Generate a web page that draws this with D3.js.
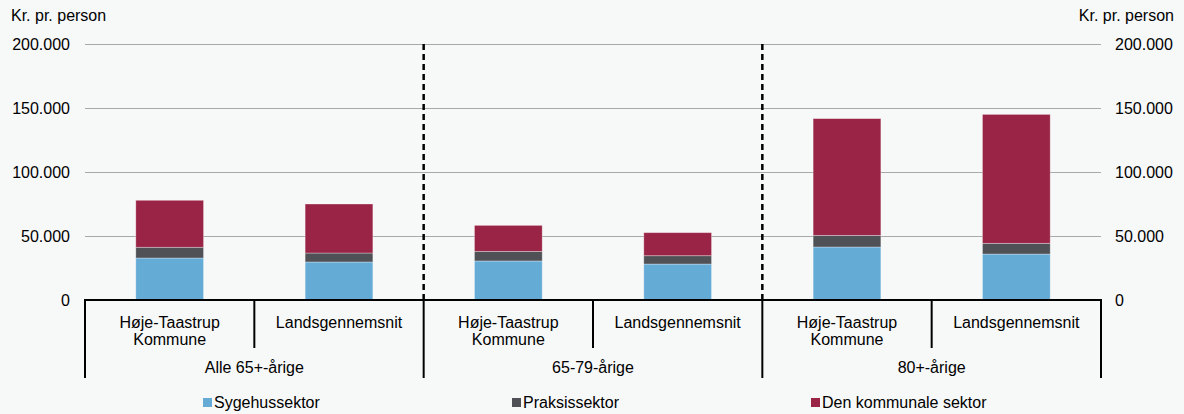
<!DOCTYPE html>
<html>
<head>
<meta charset="utf-8">
<script src="https://cdn.jsdelivr.net/npm/d3@7"></script>
<style>
  body { margin: 0; background: #f7f8f8; }
  text { font-family: "Liberation Sans", Arial, sans-serif; fill: #000; }
</style>
</head>
<body>
<div id="chart"></div>
<script>
// data
var groups = ["Alle 65+-årige", "65-79-årige", "80+-årige"];
var areas = ["Høje-Taastrup Kommune", "Landsgennemsnit"];
var series = ["Sygehussektor", "Praksissektor", "Den kommunale sektor"];
var sygehus = [32800, 29700, 30500, 28100, 41400, 35900];
var praksis = [8400, 7000, 7500, 6500, 9100, 8400];
var kommunal = [36700, 38300, 20300, 18000, 91200, 100700];
var yTicks = [0, 50000, 100000, 150000, 200000];

var W = 1184, H = 414;
var mLeft = 85, mRight = 1101, mTop = 44, mBottom = 300;
var colors = ["#64abd6", "#505157", "#9a2446"];

var cats = [];
groups.forEach(function (g, gi) {
  areas.forEach(function (a, ai) { cats.push({ id: gi + "_" + ai, group: g, area: a }); });
});
var rows = cats.map(function (c, i) {
  return { id: c.id, Sygehussektor: sygehus[i], Praksissektor: praksis[i], "Den kommunale sektor": kommunal[i] };
});

var svg = d3.select("#chart").append("svg").attr("width", W).attr("height", H);
svg.append("rect").attr("width", W).attr("height", H).attr("fill", "#f7f8f8");

var x = d3.scaleBand().domain(cats.map(function (c) { return c.id; })).range([mLeft, mRight]);
var y = d3.scaleLinear().domain([0, 200000]).range([mBottom, mTop]);
var fmt = function (d) { return d3.format(",")(d).replace(/,/g, "."); };

// gridlines
svg.append("g").selectAll("line").data(yTicks.filter(function (d) { return d > 0; })).enter().append("line")
  .attr("x1", mLeft).attr("x2", mRight)
  .attr("y1", function (d) { return y(d) + 0.5; }).attr("y2", function (d) { return y(d) + 0.5; })
  .attr("stroke", "#a9a9a9").attr("stroke-width", 1);

// left and right axes (labels only)
var yl = svg.append("g").attr("transform", "translate(" + (mLeft - 12) + ",0)")
  .call(d3.axisLeft(y).tickValues(yTicks).tickFormat(fmt).tickSize(0));
var yr = svg.append("g").attr("transform", "translate(" + (mRight + 11) + ",0)")
  .call(d3.axisRight(y).tickValues(yTicks).tickFormat(fmt).tickSize(0));
[yl, yr].forEach(function (g) {
  g.select(".domain").remove();
  g.attr("font-family", null).attr("font-size", null);
  g.selectAll("text").style("font-size", "16px").attr("dy", "0.35em").attr("fill", "#000");
});

svg.append("text").attr("x", 11).attr("y", 21).style("font-size", "16px").text("Kr. pr. person");
svg.append("text").attr("x", 1174).attr("y", 21).attr("text-anchor", "end").style("font-size", "16px").text("Kr. pr. person");

// stacked bars
var stack = d3.stack().keys(series)(rows);
var bw = x.bandwidth() * 0.4;
svg.append("g").selectAll("g").data(stack).enter().append("g")
  .attr("fill", function (d, i) { return colors[i]; })
  .selectAll("rect").data(function (d) { return d; }).enter().append("rect")
  .attr("x", function (d) { return x(d.data.id) + (x.bandwidth() - bw) / 2; })
  .attr("width", bw)
  .attr("y", function (d) { return y(d[1]); })
  .attr("height", function (d) { return y(d[0]) - y(d[1]); })
  .attr("stroke", "#ffffff").attr("stroke-opacity", 0.4).attr("stroke-width", 0.8);

// dashed group separators
var gw = x.bandwidth() * areas.length;
svg.append("g").selectAll("line").data(groups.slice(1)).enter().append("line")
  .attr("x1", function (d, i) { return mLeft + gw * (i + 1); })
  .attr("x2", function (d, i) { return mLeft + gw * (i + 1); })
  .attr("y1", mTop).attr("y2", mBottom)
  .attr("stroke", "#000").attr("stroke-width", 2.5).attr("stroke-dasharray", "6,4");

// category axis
var ax = svg.append("g");
ax.append("line").attr("x1", mLeft - 1).attr("x2", mRight + 1).attr("y1", mBottom).attr("y2", mBottom)
  .attr("stroke", "#000").attr("stroke-width", 2);
ax.selectAll(".inner").data(cats.filter(function (c, i) { return i % 2 === 1; })).enter().append("line")
  .attr("x1", function (d) { return x(d.id); }).attr("x2", function (d) { return x(d.id); })
  .attr("y1", mBottom).attr("y2", 348).attr("stroke", "#000").attr("stroke-width", 2);
ax.selectAll(".outer").data(d3.range(groups.length + 1)).enter().append("line")
  .attr("x1", function (d) { return mLeft + gw * d; }).attr("x2", function (d) { return mLeft + gw * d; })
  .attr("y1", mBottom).attr("y2", 378).attr("stroke", "#000").attr("stroke-width", 2);

cats.forEach(function (c) {
  var cx = x(c.id) + x.bandwidth() / 2;
  var t = ax.append("text").attr("text-anchor", "middle").style("font-size", "16px");
  var lines = c.area === "Høje-Taastrup Kommune" ? ["Høje-Taastrup", "Kommune"] : [c.area];
  lines.forEach(function (l, li) {
    t.append("tspan").attr("x", cx).attr("y", 328 + li * 17).text(l);
  });
});
groups.forEach(function (g, gi) {
  ax.append("text").attr("x", mLeft + gw * (gi + 0.5)).attr("y", 373)
    .attr("text-anchor", "middle").style("font-size", "16px").text(g);
});

// legend
var legX = [203, 512, 811];
var leg = svg.append("g").selectAll("g").data(series).enter().append("g")
  .attr("transform", function (d, i) { return "translate(" + legX[i] + ",398)"; });
leg.append("rect").attr("width", 9).attr("height", 9).attr("fill", function (d, i) { return colors[i]; });
leg.append("text").attr("x", 11).attr("y", 10).style("font-size", "16px").text(function (d) { return d; });
</script>
</body>
</html>
